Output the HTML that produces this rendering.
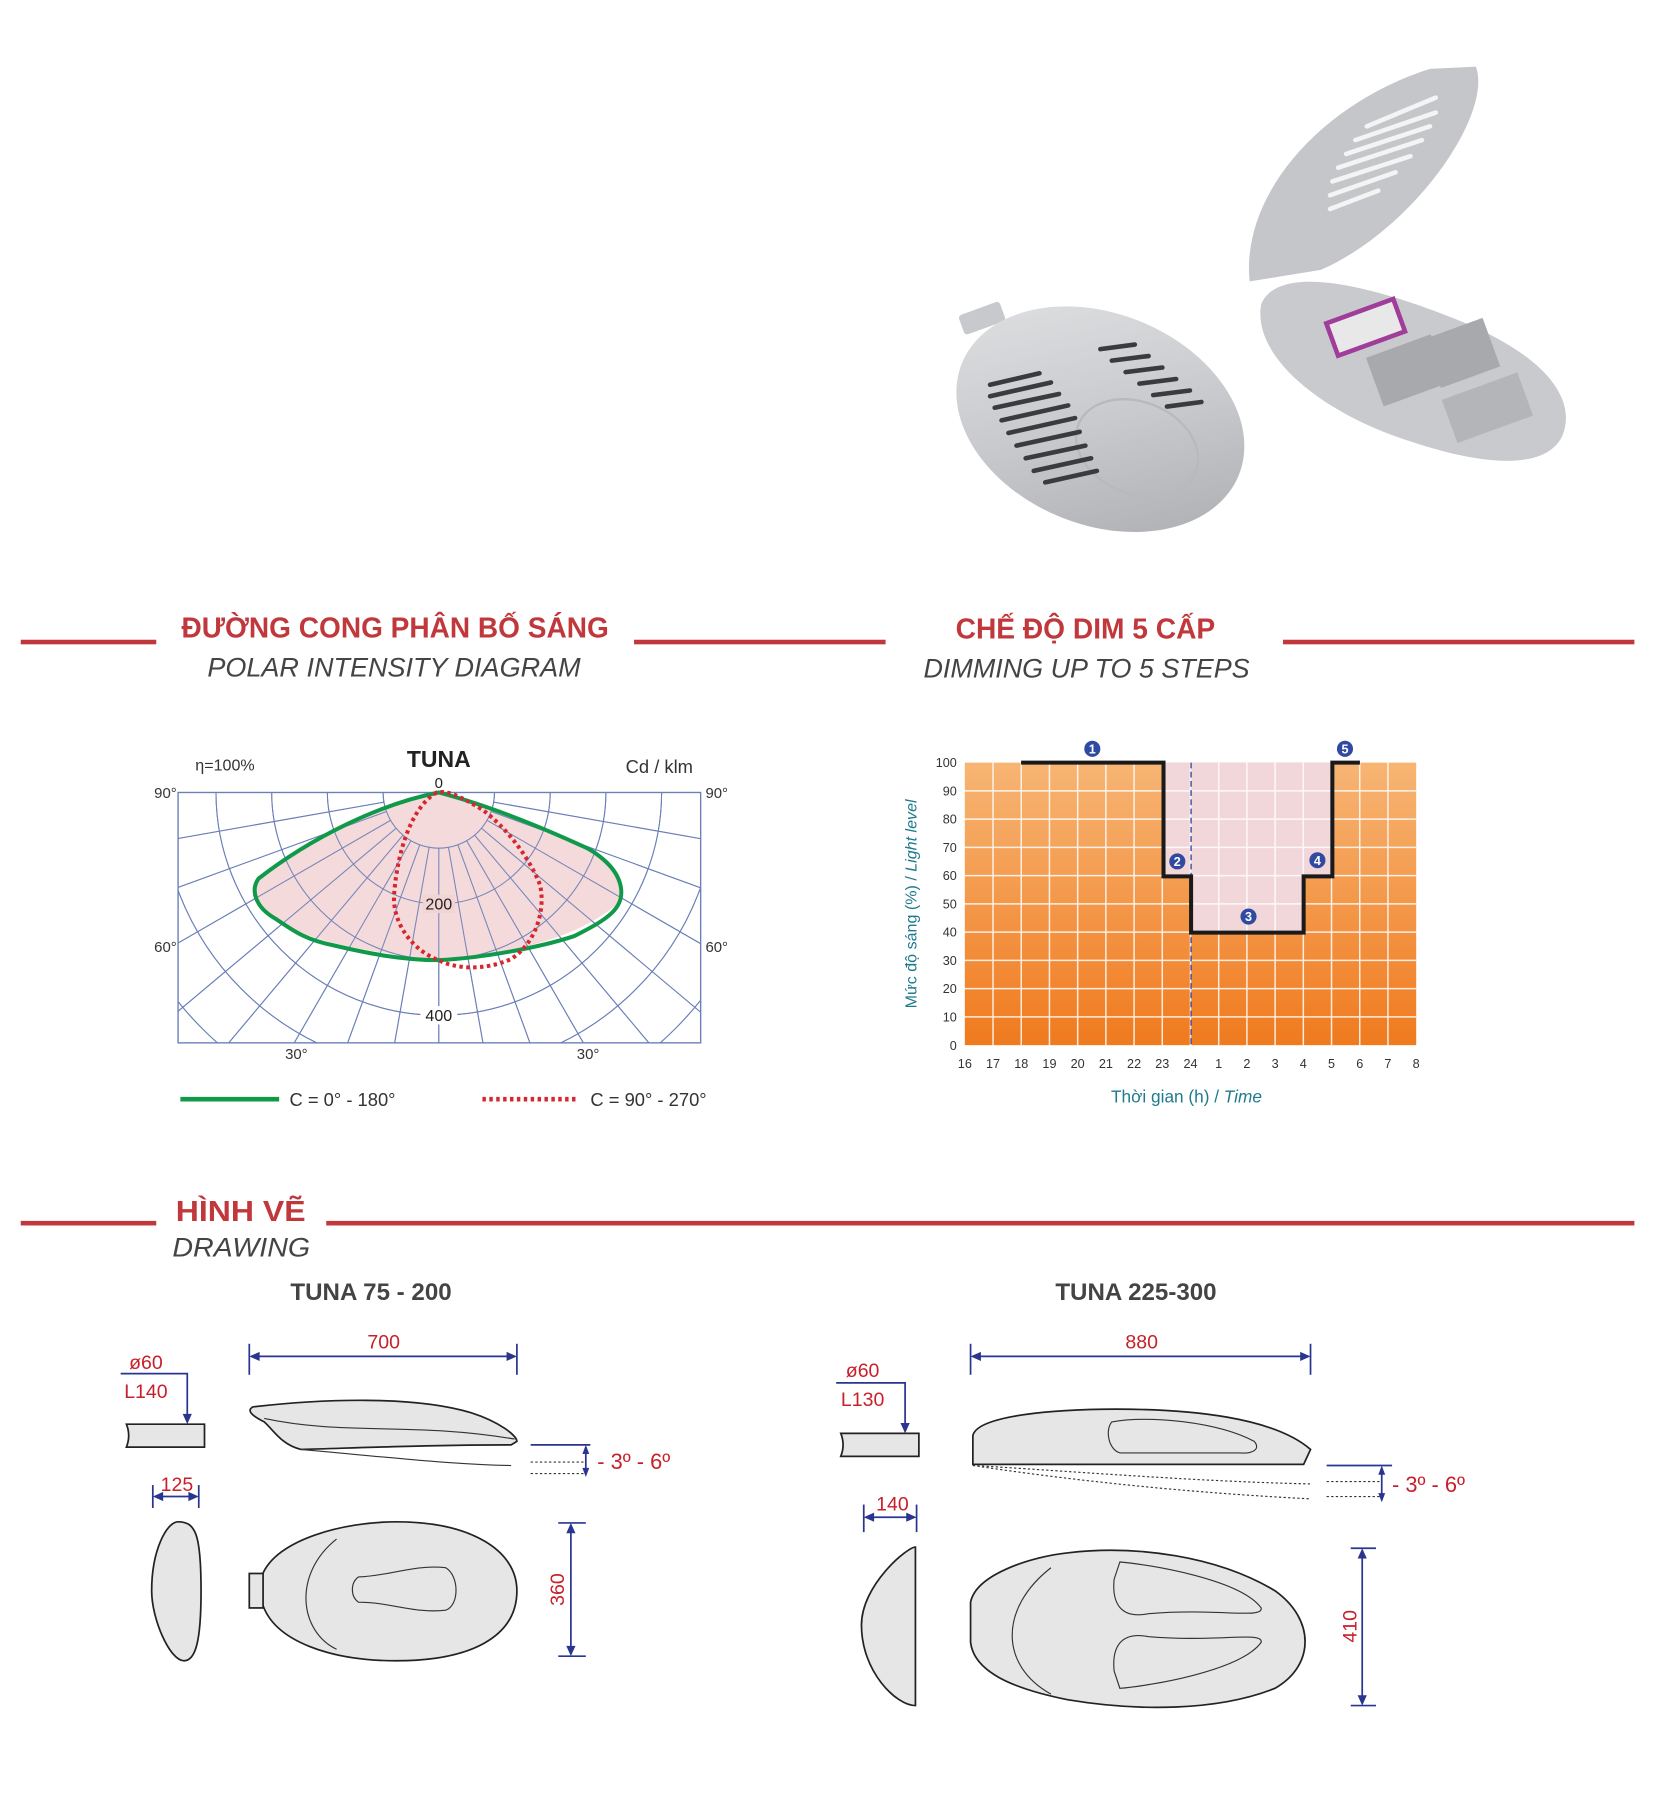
<!DOCTYPE html>
<html><head><meta charset="utf-8">
<style>
html,body{margin:0;padding:0;background:#fff;}
svg{display:block;}
text{font-family:"Liberation Sans",sans-serif;}
</style></head>
<body>
<svg id="s" width="1654" height="1794" viewBox="0 0 1440 1562" xmlns="http://www.w3.org/2000/svg">
<defs>
<linearGradient id="og" x1="0" y1="0" x2="0" y2="1">
<stop offset="0" stop-color="#f7b574"/><stop offset="1" stop-color="#f07a1e"/>
</linearGradient>
<linearGradient id="lg" x1="0" y1="0" x2="1" y2="1">
<stop offset="0" stop-color="#e2e3e5"/><stop offset="0.5" stop-color="#c9cacd"/><stop offset="1" stop-color="#a9aaad"/>
</linearGradient>
<clipPath id="pc"><rect x="155" y="690" width="455" height="218"/></clipPath>
</defs>

<!-- Lamp photos -->
<g>
<rect x="836" y="268" width="38" height="18" rx="3" fill="#c8c9cc" transform="rotate(-20 855 277)"/>
<ellipse cx="958" cy="365" rx="130" ry="92" transform="rotate(22 958 365)" fill="url(#lg)"/>
<ellipse cx="990" cy="390" rx="55" ry="40" transform="rotate(22 990 390)" fill="none" stroke="#b8b9bc" stroke-width="2"/>
<g stroke="#3a3b3e" stroke-width="4" stroke-linecap="round">
<line x1="862" y1="335" x2="905" y2="325"/><line x1="862" y1="345" x2="915" y2="333"/><line x1="866" y1="355" x2="922" y2="343"/>
<line x1="872" y1="366" x2="930" y2="353"/><line x1="878" y1="377" x2="936" y2="364"/><line x1="885" y1="388" x2="940" y2="376"/>
<line x1="893" y1="399" x2="945" y2="388"/><line x1="900" y1="410" x2="950" y2="399"/><line x1="910" y1="420" x2="955" y2="410"/>
<line x1="958" y1="304" x2="988" y2="300"/><line x1="968" y1="314" x2="1000" y2="310"/><line x1="980" y1="324" x2="1012" y2="320"/>
<line x1="992" y1="334" x2="1024" y2="330"/><line x1="1004" y1="344" x2="1036" y2="340"/><line x1="1016" y1="354" x2="1046" y2="350"/>
</g>
<path d="M1088,245 C1080,170 1150,90 1245,60 L1285,58 C1300,100 1230,200 1150,235 Z" fill="#c5c6c9"/>
<g stroke="#f4f4f4" stroke-width="4" stroke-linecap="round">
<line x1="1190" y1="110" x2="1250" y2="85"/><line x1="1180" y1="122" x2="1250" y2="98"/><line x1="1172" y1="134" x2="1245" y2="110"/>
<line x1="1165" y1="146" x2="1238" y2="122"/><line x1="1160" y1="158" x2="1228" y2="136"/><line x1="1158" y1="170" x2="1215" y2="150"/>
<line x1="1158" y1="182" x2="1200" y2="166"/>
</g>
<path d="M1098,265 C1110,235 1170,240 1260,275 C1340,305 1375,345 1360,380 C1345,410 1290,405 1230,385 C1150,360 1090,310 1098,265 Z" fill="#c9cacd"/>
<rect x="1158" y="270" width="62" height="30" fill="#e8e8e8" stroke="#a03c9a" stroke-width="4" transform="rotate(-20 1189 285)"/>
<rect x="1195" y="300" width="60" height="45" fill="#a8a9ad" transform="rotate(-20 1225 322)"/>
<rect x="1245" y="285" width="55" height="45" fill="#a8a9ad" transform="rotate(-20 1272 307)"/>
<rect x="1260" y="335" width="70" height="40" fill="#b4b5b8" transform="rotate(-20 1295 355)"/>
</g>

<!-- Section headers -->
<g fill="#c0383c">
<rect x="18" y="557" width="118" height="4"/><rect x="552" y="557" width="219" height="4"/><rect x="1117" y="557" width="306" height="4"/>
<rect x="18" y="1063" width="118" height="4"/><rect x="284" y="1063" width="1139" height="4"/>
</g>
<text x="344" y="555" text-anchor="middle" font-size="25" font-weight="bold" fill="#c0383c" textLength="372" lengthAdjust="spacingAndGlyphs">ĐƯỜNG CONG PHÂN BỐ SÁNG</text>
<text x="343" y="589" text-anchor="middle" font-size="23" font-style="italic" fill="#444" textLength="325" lengthAdjust="spacingAndGlyphs">POLAR INTENSITY DIAGRAM</text>
<text x="945" y="556" text-anchor="middle" font-size="25" font-weight="bold" fill="#c0383c" textLength="226" lengthAdjust="spacingAndGlyphs">CHẾ ĐỘ DIM 5 CẤP</text>
<text x="946" y="590" text-anchor="middle" font-size="23" font-style="italic" fill="#444" textLength="284" lengthAdjust="spacingAndGlyphs">DIMMING UP TO 5 STEPS</text>
<text x="153" y="1063" font-size="25" font-weight="bold" fill="#c0383c" textLength="113" lengthAdjust="spacingAndGlyphs">HÌNH VẼ</text>
<text x="150" y="1094" font-size="23" font-style="italic" fill="#444" textLength="120" lengthAdjust="spacingAndGlyphs">DRAWING</text>

<!-- Polar diagram -->
<g id="polar" clip-path="url(#pc)"></g>
<path d="M382,690 C330,700 270,730 225,765 C218,775 222,790 240,800 C262,815 290,825 382,836 C440,830 500,820 540,785 C548,770 535,750 510,738 C460,715 420,700 382,690 Z" fill="#f2d4d3" opacity="0.85"/>
<g id="polar2" clip-path="url(#pc)" opacity="0.9"></g>
<rect x="155" y="690" width="455" height="218" fill="none" stroke="#6b7fb8" stroke-width="1.2"/>
<path d="M382,690 C330,700 270,730 225,765 C218,775 222,790 240,800 C255,810 265,818 290,823 C320,830 350,836 382,836 C420,834 470,825 500,815 C530,800 545,790 540,770 C535,750 510,738 510,738 C460,715 420,700 382,690 Z" fill="none" stroke="#11994a" stroke-width="3.5"/>
<path d="M380,690 C355,705 345,750 343,780 C342,805 360,828 382,836 C395,843 420,846 445,835 C468,820 475,790 470,770 C460,745 440,720 420,705 C400,693 390,688 380,690 Z" fill="none" stroke="#d8262e" stroke-width="3.5" stroke-dasharray="3,3"/>
<text x="382" y="668" text-anchor="middle" font-size="20" font-weight="bold" fill="#222">TUNA</text>
<text x="170" y="671" font-size="14" fill="#333" font-family="Liberation Serif">η=100%</text>
<text x="574" y="673" text-anchor="middle" font-size="16" fill="#333">Cd / klm</text>
<text x="382" y="686" text-anchor="middle" font-size="13" fill="#222">0</text>
<text x="144" y="695" text-anchor="middle" font-size="13" fill="#333">90°</text>
<text x="624" y="695" text-anchor="middle" font-size="13" fill="#333">90°</text>
<text x="144" y="829" text-anchor="middle" font-size="13" fill="#333">60°</text>
<text x="624" y="829" text-anchor="middle" font-size="13" fill="#333">60°</text>
<text x="258" y="922" text-anchor="middle" font-size="13" fill="#333">30°</text>
<text x="512" y="922" text-anchor="middle" font-size="13" fill="#333">30°</text>
<rect x="368" y="779" width="28" height="16" fill="#f2d4d3"/>
<text x="382" y="792" text-anchor="middle" font-size="14" fill="#222">200</text>
<rect x="366" y="876" width="32" height="16" fill="#fff"/>
<text x="382" y="889" text-anchor="middle" font-size="14" fill="#222">400</text>
<line x1="157" y1="957" x2="243" y2="957" stroke="#11994a" stroke-width="4"/>
<text x="252" y="963" font-size="16" fill="#333">C = 0° - 180°</text>
<line x1="420" y1="957" x2="502" y2="957" stroke="#d8262e" stroke-width="4" stroke-dasharray="3,3"/>
<text x="514" y="963" font-size="16" fill="#333">C = 90° - 270°</text>

<!-- Dim chart -->
<rect x="840" y="664" width="393" height="246" fill="url(#og)"/>
<path d="M1013,664 L1160,664 L1160,762 L1135,762 L1135,812 L1037,812 L1037,762 L1013,762 Z" fill="#f1d6da"/>
<g id="dimgrid" stroke="#fff" stroke-width="1.3" opacity="0.85"></g>
<line x1="1037" y1="664" x2="1037" y2="910" stroke="#3a4aa0" stroke-width="1.2" stroke-dasharray="5,3"/>
<path d="M889,664 L1013,664 L1013,763 L1037,763 L1037,812 L1135,812 L1135,763 L1160,763 L1160,664 L1184,664" fill="none" stroke="#1a1a1a" stroke-width="3.5"/>
<g font-size="11" fill="#fff" font-weight="bold" text-anchor="middle">
<circle cx="951" cy="652" r="7" fill="#2f4aa0"/><text x="951" y="656">1</text>
<circle cx="1025" cy="750" r="7" fill="#2f4aa0"/><text x="1025" y="754">2</text>
<circle cx="1087" cy="798" r="7" fill="#2f4aa0"/><text x="1087" y="802">3</text>
<circle cx="1147" cy="749" r="7" fill="#2f4aa0"/><text x="1147" y="753">4</text>
<circle cx="1171" cy="652" r="7" fill="#2f4aa0"/><text x="1171" y="656">5</text>
</g>
<g id="dimlabels" font-size="11" fill="#333" text-anchor="end"></g>
<text transform="translate(798,787) rotate(-90)" text-anchor="middle" font-size="14" fill="#1f7a8c">Mức độ sáng (%) / <tspan font-style="italic">Light level</tspan></text>
<text x="1033" y="960" text-anchor="middle" font-size="15" fill="#1f7a8c">Thời gian (h) / <tspan font-style="italic">Time</tspan></text>

<!-- Drawing titles -->
<text x="323" y="1132" text-anchor="middle" font-size="21" font-weight="bold" fill="#444">TUNA  75 - 200</text>
<text x="989" y="1132" text-anchor="middle" font-size="21" font-weight="bold" fill="#444">TUNA  225-300</text>

<!-- Left drawings -->
<g fill="none" stroke="#2a3590" stroke-width="1.5">
<line x1="217" y1="1170" x2="217" y2="1197"/><line x1="450" y1="1170" x2="450" y2="1197"/>
<line x1="220" y1="1181" x2="447" y2="1181"/>
<polyline points="105,1196 163,1196 163,1236"/>
<line x1="462" y1="1258" x2="514" y2="1258"/>
<line x1="510" y1="1260" x2="510" y2="1284"/>
<line x1="133" y1="1293" x2="133" y2="1313"/><line x1="173" y1="1293" x2="173" y2="1313"/>
<line x1="136" y1="1303" x2="170" y2="1303"/>
<line x1="486" y1="1326" x2="510" y2="1326"/><line x1="486" y1="1442" x2="510" y2="1442"/>
<line x1="497" y1="1329" x2="497" y2="1439"/>
</g>
<g fill="#2a3590">
<path d="M217,1181 l9,-4 v8z"/><path d="M450,1181 l-9,-4 v8z"/>
<path d="M163,1240 l-4,-9 h8z"/>
<path d="M510,1258 l-3,8 h6z"/><path d="M510,1286 l-3,-8 h6z"/>
<path d="M133,1303 l9,-4 v8z"/><path d="M173,1303 l-9,-4 v8z"/>
<path d="M497,1326 l-4,9 h8z"/><path d="M497,1442 l-4,-9 h8z"/>
</g>
<g fill="#c8202a" font-size="17">
<text x="334" y="1174" text-anchor="middle">700</text>
<text x="127" y="1192" text-anchor="middle">ø60</text>
<text x="127" y="1217" text-anchor="middle">L140</text>
<text x="154" y="1298" text-anchor="middle">125</text>
<text x="520" y="1279" font-size="19">- 3º - 6º</text>
<text transform="translate(491,1384) rotate(-90)" text-anchor="middle">360</text>
</g>
<g stroke="#222" stroke-width="1.5" fill="#e6e6e6">
<path d="M110,1240 H178 V1260 H110 Q114,1250 110,1240 Z"/>
<path d="M220,1225 C280,1218 360,1215 410,1230 C435,1238 450,1250 450,1255 L445,1258 C380,1258 330,1260 262,1262 C245,1258 238,1245 230,1238 C218,1232 215,1228 220,1225 Z"/>
<path d="M155,1325 C170,1325 175,1335 175,1385 C175,1430 170,1446 160,1446 C148,1446 132,1410 132,1385 C132,1350 145,1325 155,1325 Z"/>
<path d="M228,1372 C240,1340 300,1325 345,1325 C410,1325 450,1350 450,1385 C450,1425 410,1446 345,1446 C290,1446 238,1430 228,1395 Z"/>
<rect x="217" y="1370" width="12" height="30"/>
</g>
<g fill="none" stroke="#333" stroke-width="1">
<path d="M230,1235 C300,1250 360,1238 448,1253"/>
<path d="M262,1262 C330,1268 390,1275 445,1276"/>
<path d="M462,1273 H510 M462,1283 H510" stroke-dasharray="2,2"/>
<path d="M293,1340 C255,1370 260,1420 293,1436"/>
<path d="M312,1373 C340,1372 360,1362 388,1365 C400,1372 400,1398 388,1402 C360,1405 340,1395 312,1395 C305,1390 305,1378 312,1373 Z"/>
</g>

<!-- Right drawings -->
<g fill="none" stroke="#2a3590" stroke-width="1.5">
<line x1="845" y1="1170" x2="845" y2="1197"/><line x1="1141" y1="1170" x2="1141" y2="1197"/>
<line x1="848" y1="1181" x2="1138" y2="1181"/>
<polyline points="728,1204 788,1204 788,1244"/>
<line x1="1155" y1="1276" x2="1212" y2="1276"/>
<line x1="1203" y1="1278" x2="1203" y2="1306"/>
<line x1="752" y1="1310" x2="752" y2="1334"/><line x1="798" y1="1310" x2="798" y2="1334"/>
<line x1="755" y1="1321" x2="795" y2="1321"/>
<line x1="1176" y1="1348" x2="1198" y2="1348"/><line x1="1176" y1="1485" x2="1198" y2="1485"/>
<line x1="1186" y1="1351" x2="1186" y2="1482"/>
</g>
<g fill="#2a3590">
<path d="M845,1181 l9,-4 v8z"/><path d="M1141,1181 l-9,-4 v8z"/>
<path d="M788,1248 l-4,-9 h8z"/>
<path d="M1203,1276 l-3,8 h6z"/><path d="M1203,1308 l-3,-8 h6z"/>
<path d="M752,1321 l9,-4 v8z"/><path d="M798,1321 l-9,-4 v8z"/>
<path d="M1186,1348 l-4,9 h8z"/><path d="M1186,1485 l-4,-9 h8z"/>
</g>
<g fill="#c8202a" font-size="17">
<text x="994" y="1174" text-anchor="middle">880</text>
<text x="751" y="1199" text-anchor="middle">ø60</text>
<text x="751" y="1224" text-anchor="middle">L130</text>
<text x="777" y="1315" text-anchor="middle">140</text>
<text x="1212" y="1299" font-size="19">- 3º - 6º</text>
<text transform="translate(1181,1416) rotate(-90)" text-anchor="middle">410</text>
</g>
<g stroke="#222" stroke-width="1.5" fill="#e6e6e6">
<path d="M732,1248 H800 V1268 H732 Q736,1258 732,1248 Z"/>
<path d="M847,1250 C850,1235 900,1228 960,1227 C1040,1226 1110,1235 1141,1262 L1135,1275 H847 Z"/>
<path d="M797,1347 C790,1347 750,1380 750,1415 C750,1455 780,1485 797,1485 Z"/>
<path d="M845,1395 C850,1370 900,1355 930,1352 C990,1345 1060,1355 1110,1385 C1145,1410 1145,1450 1110,1470 C1060,1490 990,1490 930,1480 C880,1470 848,1455 845,1430 Z"/>
</g>
<g fill="none" stroke="#333" stroke-width="1">
<path d="M968,1238 C1000,1232 1060,1238 1092,1255 C1098,1262 1090,1266 1080,1265 H975 C965,1262 962,1245 968,1238 Z"/>
<path d="M847,1276 C920,1280 1040,1290 1141,1292 M847,1276 C940,1290 1040,1300 1141,1305" stroke-dasharray="2,2"/>
<path d="M1155,1290 H1203 M1155,1303 H1203" stroke-dasharray="2,2"/>
<path d="M915,1365 C870,1400 870,1450 915,1475"/>
<path d="M975,1360 C1000,1362 1080,1375 1098,1400 C1100,1410 1060,1400 1000,1405 C975,1410 968,1395 970,1375 Z"/>
<path d="M975,1470 C1000,1468 1080,1455 1098,1430 C1100,1420 1060,1430 1000,1425 C975,1420 968,1435 970,1455 Z"/>
</g>
</svg>
<script>
var NS="http://www.w3.org/2000/svg";
function el(p,t,a){var e=document.createElementNS(NS,t);for(var k in a)e.setAttribute(k,a[k]);p.appendChild(e);return e;}
["polar","polar2"].forEach(function(id){
 var g=document.getElementById(id);
 var cx=382,cy=690,d=48.5;
 for(var k=1;k<=12;k++) el(g,"circle",{cx:cx,cy:cy,r:d*k,fill:"none",stroke:"#6b7fb8","stroke-width":0.9});
 for(var a=-90;a<=90;a+=10){
  var r=a*Math.PI/180, x1=cx+d*Math.sin(r), y1=cy+d*Math.cos(r), x2=cx+700*Math.sin(r), y2=cy+700*Math.cos(r);
  el(g,"line",{x1:x1,y1:y1,x2:x2,y2:y2,stroke:"#6b7fb8","stroke-width":0.9});
 }
});
var dg=document.getElementById("dimgrid"), dl=document.getElementById("dimlabels");
var x0=840,w=24.56,y0=664,h=24.6;
for(var i=1;i<16;i++) el(dg,"line",{x1:x0+i*w,y1:664,x2:x0+i*w,y2:910});
for(var j=1;j<10;j++) el(dg,"line",{x1:840,y1:y0+j*h,x2:1233,y2:y0+j*h});
for(var j=0;j<=10;j++){var t=el(dl,"text",{x:833,y:y0+j*h+4});t.textContent=(100-j*10);}
var hrs=[16,17,18,19,20,21,22,23,24,1,2,3,4,5,6,7,8];
hrs.forEach(function(v,i){var t=el(dl,"text",{x:x0+i*w,y:930,"text-anchor":"middle"});t.textContent=v;});
</script>
</body></html>
